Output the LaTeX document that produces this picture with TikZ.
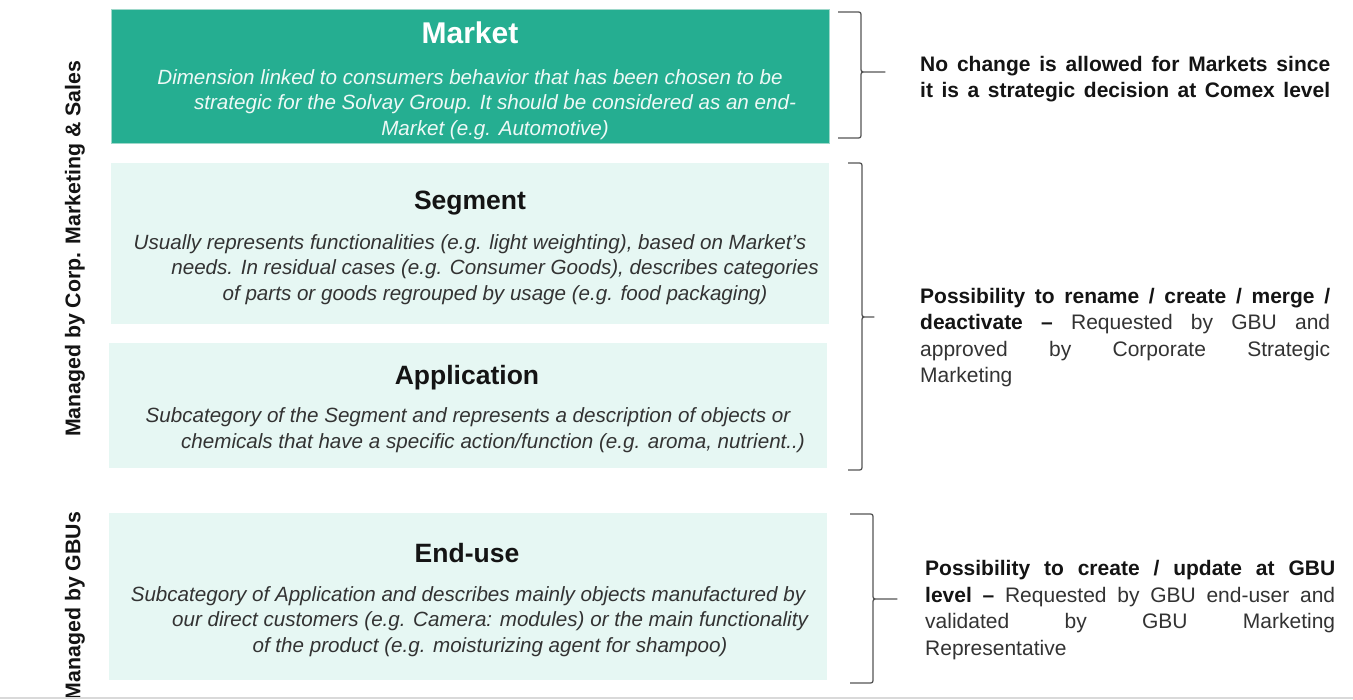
\documentclass[tikz,border=0pt]{standalone}
\usepackage{fontspec}
\setmainfont{Liberation Sans}
\definecolor{tealbox}{HTML}{25AE91}
\definecolor{tealedge}{HTML}{9ED8CA}
\definecolor{mintbox}{HTML}{E6F7F3}
\definecolor{txtdark}{HTML}{141414}
\definecolor{txtreg}{HTML}{333333}
\definecolor{bracegray}{HTML}{555555}
\newcommand\jline[1]{{\spaceskip=0.278em plus 1fil\relax\makebox[410pt][s]{#1}}}
\newcommand\mybrace[6]{%
  \draw[bracestyle] (#1,#3) -- ({#2-5},#3) .. controls (#2,#3) .. (#2,{#3+5})
    -- (#2,{#4-5}) .. controls (#2,#4) .. ({#2+5},#4) -- (#6,#4)
    -- ({#2+5},#4) .. controls (#2,#4) .. (#2,{#4+5})
    -- (#2,{#5-5}) .. controls (#2,#5) .. ({#2-5},#5) -- (#1,#5);}
\begin{document}
\begin{tikzpicture}[x=1pt,y=-1pt,
  boxstyle/.style={rectangle, inner sep=0pt, minimum width=718pt},
  titlestyle/.style={font=\fontsize{26.5}{30}\selectfont\bfseries, text=txtdark, inner sep=0pt},
  descstyle/.style={font=\fontsize{20.6}{25.8}\selectfont\itshape, text=txtreg, align=center, inner sep=0pt},
  sidestyle/.style={font=\fontsize{21.3}{25}\selectfont\bfseries, text=txtdark, rotate=90, inner sep=0pt},
  notestyle/.style={font=\fontsize{21}{26.5}\selectfont, text=txtreg, align=left, text width=410pt, inner sep=0pt, anchor=west},
  bracestyle/.style={draw=bracegray, line width=1.3pt, line join=round}]
\useasboundingbox[fill=white] (0,0) rectangle (1353,700);

% boxes
\node[boxstyle, fill=tealbox, draw=tealedge, line width=1pt, minimum height=134pt] (market) at (470,77) {};
\node[boxstyle, fill=mintbox, minimum height=161pt] (segment) at (470,243.5) {};
\node[boxstyle, fill=mintbox, minimum height=125pt] (application) at (468,405.5) {};
\node[boxstyle, fill=mintbox, minimum height=167pt] (enduse) at (468,596.5) {};

% titles
\node[titlestyle, text=white, font=\fontsize{30}{34}\selectfont\bfseries] (tmarket) at (470,33) {Market};
\node[titlestyle] (tsegment) at (470,203) {Segment};
\node[titlestyle] (tapplication) at (467,378) {Application};
\node[titlestyle] (tenduse) at (467,553) {End-use};

% descriptions
\node[descstyle, text=white!92!tealbox] (dmarket) at (495,104.5) {Dimension linked to consumers behavior that has been chosen to be\hspace*{50pt}\\
strategic for the Solvay Group. It should be considered as an end-\\
Market (e.g. Automotive)};
\node[descstyle] (dsegment) at (495,269.5) {Usually represents functionalities (e.g. light weighting), based on Market's\hspace*{50pt}\\
needs. In residual cases (e.g. Consumer Goods), describes categories\\
of parts or goods regrouped by usage (e.g. food packaging)};
\node[descstyle] (dapplication) at (493,430.5) {Subcategory of the Segment and represents a description of objects or\hspace*{50pt}\\
chemicals that have a specific action/function (e.g. aroma, nutrient..)};
\node[descstyle] (denduse) at (490,621.5) {Subcategory of Application and describes mainly objects manufactured by\hspace*{44pt}\\
our direct customers (e.g. Camera: modules) or the main functionality\\
of the product (e.g. moisturizing agent for shampoo)};

% side labels
\node[sidestyle] (corp) at (75,249) {Managed by Corp. Marketing \& Sales};
\node[sidestyle] (gbus) at (75,606) {Managed by GBUs};

% braces
\mybrace{838}{861}{12}{72}{138}{885}
\mybrace{848}{862}{163}{317}{470}{874}
\mybrace{850}{873}{514}{599}{683}{897}

% notes
\node[notestyle, text=txtdark, font=\fontsize{21}{26.5}\selectfont\bfseries] (note1) at (920,79) {\jline{No change is allowed for Markets since}\\
\jline{it is a strategic decision at Comex level}};
\node[notestyle] (note2) at (920,337.5) {\jline{\textcolor{txtdark}{\bfseries Possibility to rename / create / merge /}}\\
\jline{\textcolor{txtdark}{\bfseries deactivate –} Requested by GBU and}\\
\jline{approved by Corporate Strategic}\\
Marketing};
\node[notestyle] (note3) at (925,610) {\jline{\textcolor{txtdark}{\bfseries Possibility to create / update at GBU}}\\
\jline{\textcolor{txtdark}{\bfseries level –} Requested by GBU end-user and}\\
\jline{validated by GBU Marketing}\\
Representative};

% bottom rule
\draw[black!15, line width=2pt] (0,698) -- (1353,698);
\end{tikzpicture}
\end{document}
